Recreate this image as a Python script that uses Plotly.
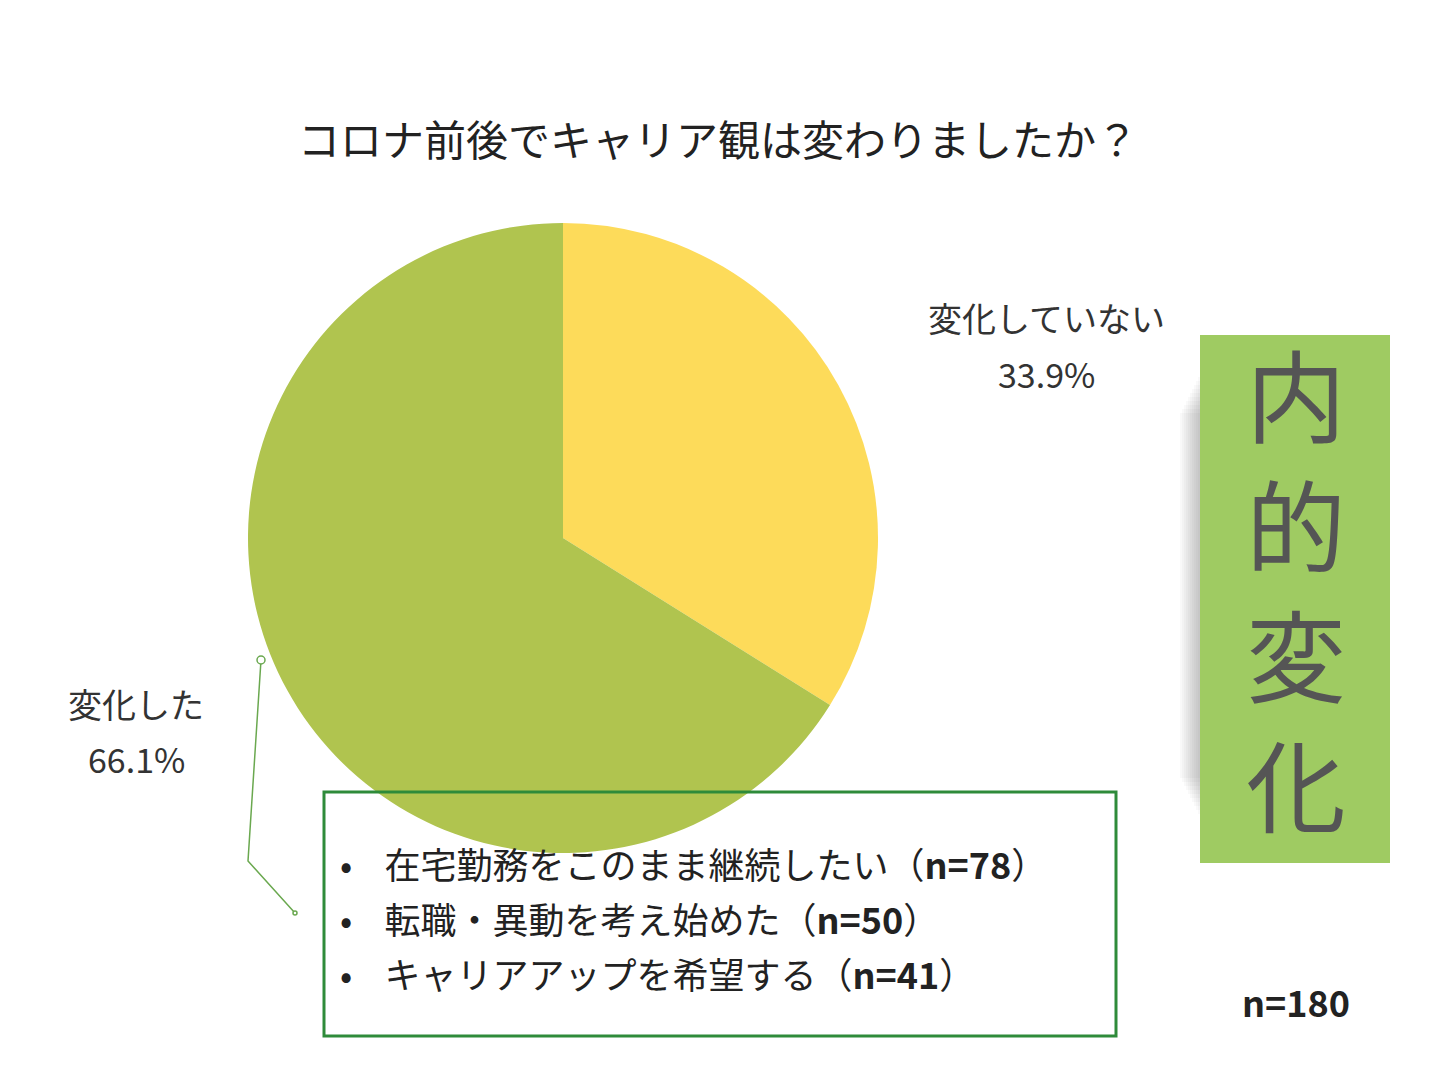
import plotly.graph_objects as go

labels = ["変化していない", "変化した"]
values = [33.9, 66.1]
colors = ["#FDDB5A", "#B0C44F"]
bullets = ["在宅勤務をこのまま継続したい（<b>n=78</b>）",
           "転職・異動を考え始めた（<b>n=50</b>）",
           "キャリアアップを希望する（<b>n=41</b>）"]

W, H = 1440, 1080
def px(x): return x / W
def py(y): return 1 - y / H

font = "Noto Sans CJK JP"
fig = go.Figure(go.Pie(labels=labels, values=values, sort=False, direction="clockwise",
                       rotation=0, marker=dict(colors=colors), textinfo="none",
                       hoverinfo="label+percent", showlegend=False,
                       domain=dict(x=[px(240), px(870)], y=[py(845), py(215)])))

shapes = []
for i in range(10):
    d = 2 + i * 2
    shapes.append(dict(type="rect", xref="paper", yref="paper", x0=px(1192 - d), x1=px(1382),
                       y0=py(850 - 40 - d * 2), y1=py(325 + 40 + d * 2),
                       fillcolor="rgba(0,0,0,0.025)", line_width=0, layer="below"))
shapes.append(dict(type="rect", xref="paper", yref="paper", x0=px(1192), x1=px(1382),
                   y0=py(855), y1=py(327), fillcolor="#9FCB62", line_width=0))
shapes.append(dict(type="rect", xref="paper", yref="paper", x0=px(316), x1=px(1108),
                   y0=py(1028), y1=py(784), fillcolor="rgba(0,0,0,0)", line=dict(color="#2E8B3A", width=3)))
shapes.append(dict(type="path", xref="paper", yref="paper",
                   path=f"M {px(253)} {py(652)} L {px(240)} {py(853)} L {px(287)} {py(905)}",
                   line=dict(color="#6AA84F", width=1.5)))
for (cx, cy, r) in [(253, 652, 4), (287, 905, 2)]:
    shapes.append(dict(type="circle", xref="paper", yref="paper", x0=px(cx - r), x1=px(cx + r),
                       y0=py(cy + r), y1=py(cy - r), line=dict(color="#6AA84F", width=1.5), fillcolor="white"))

ann = [
    dict(x=px(710), y=py(130), text="コロナ前後でキャリア観は変わりましたか？", font=dict(size=42, color="#222")),
    dict(x=px(1038), y=py(310), text="変化していない", font=dict(size=34, color="#333")),
    dict(x=px(1038), y=py(365), text="33.9%", font=dict(size=34, color="#333")),
    dict(x=px(128), y=py(695), text="変化した", font=dict(size=34, color="#333")),
    dict(x=px(128), y=py(750), text="66.1%", font=dict(size=34, color="#333")),
    dict(x=px(1288), y=py(993), text="<b>n=180</b>", font=dict(size=36, color="#222")),
    dict(x=px(1288), y=py(578), text="内<br>的<br>変<br>化", font=dict(size=100, color="#555")),
]
for i, b in enumerate(bullets):
    ann.append(dict(x=px(330), y=py(855 + i * 55), text="•    " + b, xanchor="left",
                    font=dict(size=36, color="#222")))
for a in ann:
    a.setdefault("xanchor", "center")
    a.update(xref="paper", yref="paper", yanchor="middle", showarrow=False)

fig.update_layout(width=W, height=H, margin=dict(l=0, r=0, t=0, b=0), paper_bgcolor="white",
                  font=dict(family=font), shapes=shapes, annotations=ann)
fig.write_html("out.html")
